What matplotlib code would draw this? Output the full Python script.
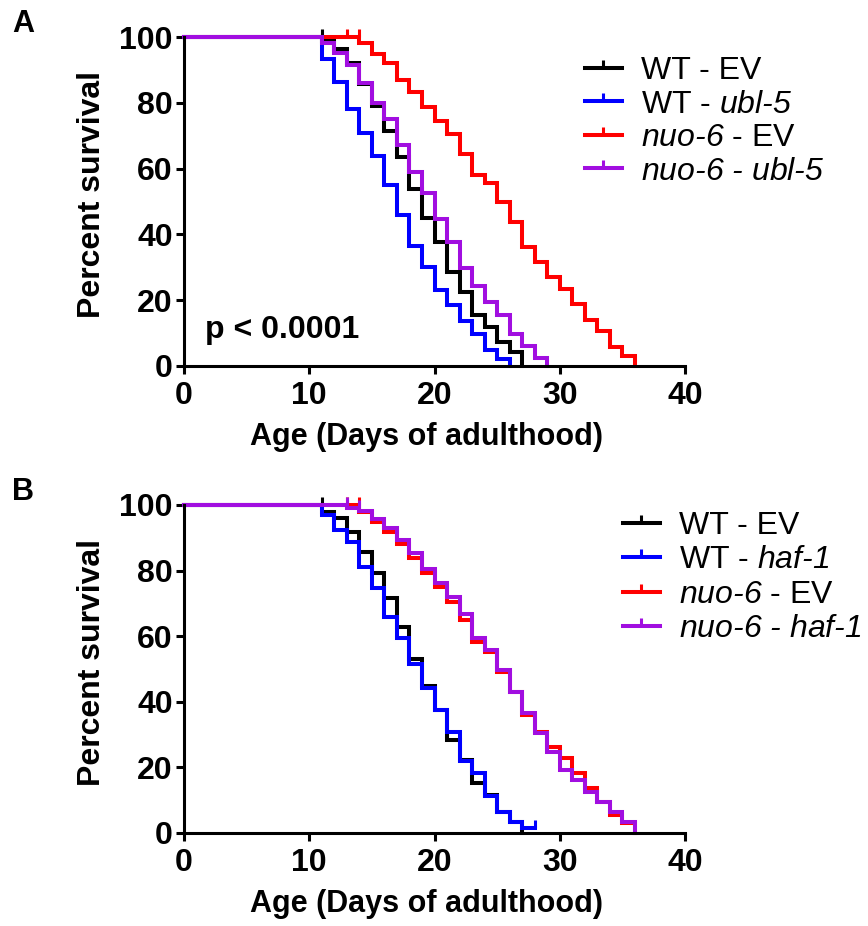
import matplotlib
matplotlib.use('Agg')
import matplotlib.pyplot as plt
from matplotlib.lines import Line2D

plt.rcParams['font.family'] = ['Liberation Sans', 'DejaVu Sans']
plt.rcParams['mathtext.fontset'] = 'custom'
plt.rcParams['mathtext.it'] = 'Liberation Sans:italic'
plt.rcParams['mathtext.rm'] = 'Liberation Sans:italic'

# ---- panel A data (day of death -> percent survival after that day)
a_wt_ev_days = [11, 12, 13, 14, 15, 16, 17, 18, 19, 20, 21, 22, 23, 24, 25, 26, 27]
a_wt_ev_surv = [98.9, 96.4, 92.3, 85.7, 79.1, 71.5, 63.6, 53.8, 45.0, 37.8, 28.5, 22.4, 15.3, 11.8, 7.2, 4.2, 0]
a_wt_ev_cens = [11]

a_wt_ubl_days = [11, 12, 13, 14, 15, 16, 17, 18, 19, 20, 21, 22, 23, 24, 25, 26]
a_wt_ubl_surv = [93.5, 86.5, 78.3, 70.8, 63.9, 55.1, 46.0, 36.6, 30.0, 22.9, 18.5, 13.5, 9.7, 4.7, 1.9, 0]
a_wt_ubl_cens = []

a_nuo_ev_days = [14, 15, 16, 17, 18, 19, 20, 21, 22, 23, 24, 25, 26, 27, 28, 29, 30, 31, 32, 33, 34, 35, 36]
a_nuo_ev_surv = [98.3, 95.0, 92.3, 87.1, 83.4, 78.7, 74.6, 70.5, 64.4, 58.1, 55.6, 49.8, 43.7, 36.1, 31.5,
                 27.0, 23.4, 18.8, 13.8, 10.7, 5.7, 3.1, 0]
a_nuo_ev_cens = [13, 14]

a_nuo_ubl_days = [11, 12, 13, 14, 15, 16, 17, 18, 19, 20, 21, 22, 23, 24, 25, 26, 27, 28, 29]
a_nuo_ubl_surv = [98.4, 95.3, 91.5, 86.2, 80.1, 75.1, 67.1, 59.0, 52.5, 44.8, 37.6, 29.7, 24.4, 19.5, 15.5,
                  9.7, 6.0, 2.3, 0]
a_nuo_ubl_cens = []

# ---- panel B data
b_wt_ev_days = [11, 12, 13, 14, 15, 16, 17, 18, 19, 20, 21, 22, 23, 24, 25, 26, 27]
b_wt_ev_surv = [98.0, 95.9, 91.9, 85.7, 79.1, 71.5, 62.9, 53.0, 44.9, 37.4, 28.3, 22.2, 15.1, 11.5, 6.4, 3.4, 0]
b_wt_ev_cens = [11]

b_wt_haf_days = [11, 12, 13, 14, 15, 16, 17, 18, 19, 20, 21, 22, 23, 24, 25, 26, 27, 28]
b_wt_haf_surv = [97.0, 92.4, 88.8, 81.2, 74.6, 65.9, 59.5, 51.5, 44.1, 37.4, 30.8, 22.0, 18.1, 11.2, 6.4,
                 3.4, 1.5, 1.5]
b_wt_haf_cens = [28]

b_nuo_ev_days = [14, 15, 16, 17, 18, 19, 20, 21, 22, 23, 24, 25, 26, 27, 28, 29, 30, 31, 32, 33, 34, 35, 36]
b_nuo_ev_surv = [97.9, 94.8, 91.8, 88.0, 83.7, 79.2, 75.1, 70.5, 64.9, 58.3, 55.2, 49.1, 43.0, 35.9, 30.8,
                 26.2, 22.7, 18.1, 13.5, 9.5, 5.4, 2.9, 0]
b_nuo_ev_cens = [13, 14]

b_nuo_haf_days = [13, 14, 15, 16, 17, 18, 19, 20, 21, 22, 23, 24, 25, 26, 27, 28, 29, 30, 31, 32, 33, 34, 35, 36]
b_nuo_haf_surv = [99.0, 98.3, 95.8, 93.0, 89.3, 85.3, 80.4, 76.1, 71.8, 66.7, 59.3, 55.8, 49.6, 43.0, 36.4,
                  30.3, 24.7, 19.1, 16.1, 12.5, 9.5, 6.4, 3.4, 0]
b_nuo_haf_cens = [13, 14]

colors = ['black', '#0000ff', '#ff0000', '#a10ee0']
labels_a = ['WT - EV', r'WT - $\text{ubl-5}$', r'$\text{nuo-6}$ - EV', r'$\text{nuo-6 - ubl-5}$']
labels_b = ['WT - EV', r'WT - $\text{haf-1}$', r'$\text{nuo-6}$ - EV', r'$\text{nuo-6 - haf-1}$']

series_a = [(a_wt_ev_days, a_wt_ev_surv, a_wt_ev_cens),
            (a_wt_ubl_days, a_wt_ubl_surv, a_wt_ubl_cens),
            (a_nuo_ev_days, a_nuo_ev_surv, a_nuo_ev_cens),
            (a_nuo_ubl_days, a_nuo_ubl_surv, a_nuo_ubl_cens)]
series_b = [(b_wt_ev_days, b_wt_ev_surv, b_wt_ev_cens),
            (b_wt_haf_days, b_wt_haf_surv, b_wt_haf_cens),
            (b_nuo_ev_days, b_nuo_ev_surv, b_nuo_ev_cens),
            (b_nuo_haf_days, b_nuo_haf_surv, b_nuo_haf_cens)]

W, H = 868, 926
fig = plt.figure(figsize=(W / 100, H / 100), dpi=100)


def level_at(days, surv, d):
    # survival just after day d (step post)
    val = 100
    for dd, s in zip(days, surv):
        if dd <= d:
            val = s
    return val


def draw_panel(rect, series, labels, leg_xy, spacing):
    ax = fig.add_axes(rect)
    for (days, surv, cens), c in zip(series, colors):
        x = [0] + days
        y = [100] + surv
        ax.step(x, y, where='post', color=c, lw=2.9, clip_on=False, solid_joinstyle='miter')
        if cens:
            cy = [level_at(days, surv, d - 0.01) for d in cens]
            ax.plot(cens, cy, linestyle='none', marker=2, ms=6, mew=2.2, color=c, clip_on=False)
    ax.set_xlim(0, 40)
    ax.set_ylim(0, 100)
    ax.set_xticks([0, 10, 20, 30, 40])
    ax.set_yticks([0, 20, 40, 60, 80, 100])
    for s in ['top', 'right']:
        ax.spines[s].set_visible(False)
    for s in ['left', 'bottom']:
        ax.spines[s].set_linewidth(2.2)
    ax.tick_params(width=2.2, length=6, labelsize=23)
    ax.tick_params(axis='x', pad=5)
    ax.tick_params(axis='y', pad=2)
    for lab in ax.get_xticklabels() + ax.get_yticklabels():
        lab.set_fontweight('bold')
    ax.set_xlabel('Age (Days of adulthood)', fontsize=22, fontweight='bold')
    ax.set_ylabel('Percent survival', fontsize=23, fontweight='bold')
    ax.xaxis.set_label_coords(0.485, -0.217)
    ax.xaxis.label.set_va('center')
    ax.yaxis.set_label_coords(-0.184, 0.52)
    ax.yaxis.label.set_va('center')
    handles = [Line2D([], [], color=c, lw=2.9, marker=2, ms=6, mew=2.2) for c in colors]
    fig.legend(handles, labels, loc='upper left', bbox_to_anchor=leg_xy, frameon=False,
               fontsize=23, handlelength=1.15, handletextpad=0.6, labelspacing=spacing,
               borderpad=0, borderaxespad=0, numpoints=1)
    return ax


ax_a = draw_panel([184 / W, 1 - 365.7 / H, 501 / W, 328.4 / H], series_a, labels_a,
                  (585 / W, 1 - 56 / H), 0.11)
ax_a.text(205 / W, 1 - 330 / H, 'p < 0.0001', transform=fig.transFigure, fontsize=23,
          fontweight='bold', va='center', ha='left')

ax_b = draw_panel([184 / W, 1 - 832.7 / H, 501 / W, 327.7 / H], series_b, labels_b,
                  (623 / W, 1 - 511 / H), 0.14)

fig.text(12 / W, 1 - 24 / H, 'A', fontsize=22, fontweight='bold', va='center', ha='left')
fig.text(12 / W, 1 - 492 / H, 'B', fontsize=22, fontweight='bold', va='center', ha='left')

fig.savefig('out.png', dpi=100)
